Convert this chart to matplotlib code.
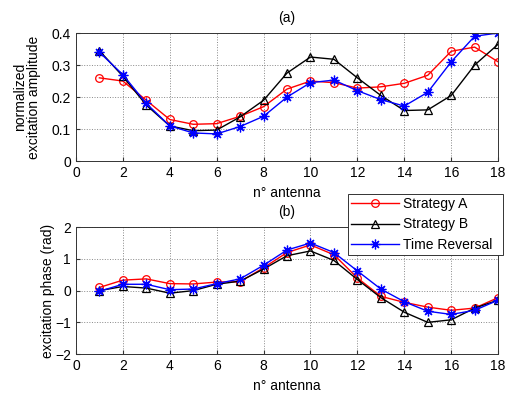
import matplotlib
matplotlib.use("Agg")
import matplotlib.pyplot as plt

plt.rcParams['font.family'] = ['Liberation Sans', 'DejaVu Sans']

antenna = list(range(1, 19))

amp_A = [0.26, 0.25, 0.19, 0.13, 0.115, 0.117, 0.14, 0.17, 0.225, 0.25, 0.245, 0.228, 0.232, 0.243, 0.268, 0.343, 0.356, 0.31]
amp_B = [0.345, 0.265, 0.175, 0.11, 0.095, 0.097, 0.138, 0.19, 0.275, 0.325, 0.318, 0.26, 0.205, 0.158, 0.16, 0.205, 0.30, 0.365]
amp_TR = [0.34, 0.27, 0.18, 0.11, 0.088, 0.085, 0.108, 0.14, 0.20, 0.245, 0.253, 0.22, 0.192, 0.172, 0.215, 0.31, 0.39, 0.40]

ph_A = [0.10, 0.33, 0.37, 0.22, 0.21, 0.27, 0.28, 0.72, 1.20, 1.44, 1.13, 0.40, -0.18, -0.37, -0.52, -0.62, -0.55, -0.22]
ph_B = [0.0, 0.13, 0.08, -0.08, 0.0, 0.20, 0.30, 0.68, 1.10, 1.25, 0.95, 0.35, -0.22, -0.68, -1.0, -0.92, -0.55, -0.30]
ph_TR = [-0.02, 0.20, 0.20, 0.03, 0.05, 0.22, 0.37, 0.80, 1.28, 1.50, 1.20, 0.62, 0.05, -0.35, -0.65, -0.75, -0.62, -0.30]

labels = ['Strategy A', 'Strategy B', 'Time Reversal']

FS = 10
fig = plt.figure(figsize=(5.13, 3.93), dpi=100)
ax1 = fig.add_axes([0.148, 0.590, 0.823, 0.326])
ax2 = fig.add_axes([0.148, 0.099, 0.823, 0.323])

styles = [dict(color='red', marker='o', mfc='none', ms=5.5),
          dict(color='black', marker='^', mfc='none', ms=5.5),
          dict(color='blue', marker=(8, 2, 0), ms=7)]

for ax, data in ((ax1, (amp_A, amp_B, amp_TR)), (ax2, (ph_A, ph_B, ph_TR))):
    for d, st, lab in zip(data, styles, labels):
        ax.plot(antenna, d, lw=1, mew=0.9, label=lab, **st)
    ax.set_xlim(0, 18)
    ax.set_xticks(range(0, 19, 2))
    ax.grid(True, linestyle=':', color='#888888', linewidth=0.7)
    ax.tick_params(direction='in', labelsize=FS, length=3, color='#333333')
    ax.set_xlabel('n° antenna', fontsize=FS, labelpad=4)
    for s in ax.spines.values():
        s.set_linewidth(0.7)
        s.set_color('#333333')

ax1.set_ylim(0, 0.4)
ax1.set_yticks([0, 0.1, 0.2, 0.3, 0.4])
ax1.set_yticklabels(['0', '0.1', '0.2', '0.3', '0.4'])
ax1.set_ylabel('normalized\nexcitation amplitude', fontsize=FS, labelpad=8, linespacing=1.0)
ax1.set_title('(a)', fontsize=FS, pad=8)

ax2.set_ylim(-2, 2)
ax2.set_yticks([-2, -1, 0, 1, 2])
ax2.set_ylabel('excitation phase (rad)', fontsize=FS, labelpad=0)
ax2.set_title('(b)', fontsize=FS, pad=8)

leg = fig.legend(*ax1.get_legend_handles_labels(), loc='upper left',
                 bbox_to_anchor=(0.678, 0.507, 0.302, 0.0), mode='expand',
                 fontsize=FS, fancybox=False, edgecolor='#333333', framealpha=1,
                 handlelength=3.4, borderpad=0.25, labelspacing=0.45, handletextpad=0.3,
                 borderaxespad=0)
leg.get_frame().set_linewidth(0.7)

fig.savefig('out.png', dpi=100)
